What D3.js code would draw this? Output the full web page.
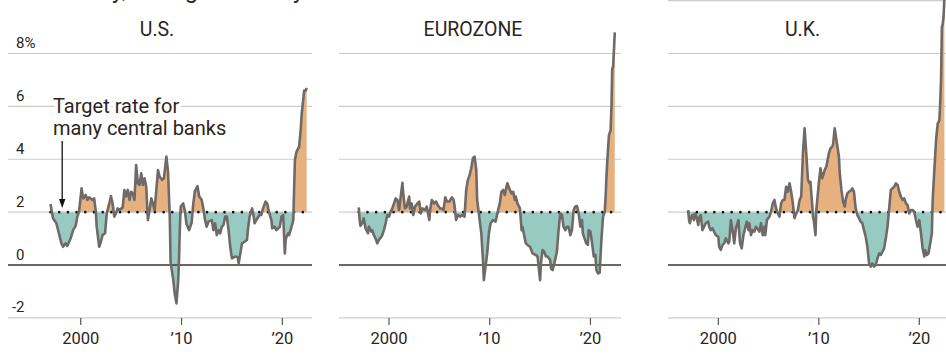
<!DOCTYPE html>
<html><head><meta charset="utf-8">
<script src="https://cdn.jsdelivr.net/npm/d3@7"></script>
<style>
html,body{margin:0;padding:0;background:#fff;}
svg{display:block;font-family:Roboto,"Noto Sans",sans-serif;}
</style></head><body>
<svg id="c" width="946" height="356"></svg>
<script>
// ---------------- DATA ----------------
const panelTitles = ["U.S.", "EUROZONE", "U.K."];
const targetRate = 2;
const yTicks = [-2, 0, 2, 4, 6, 8];
const ukYTicks = [-2, 0, 2, 4, 6, 8, 10];
const xTickYears = ["2000-01", "2010-01", "2020-01"];
const xTickLabels = ["2000", "\u201910", "\u201920"];
const subtitle = "Monthly, change from a year earlier";
const noteLines = ["Target rate for", "many central banks"];

const usDates = ["1997-01","1997-04","1997-08","1998-02","1998-04","1998-07","1998-09","1999-01","1999-04","1999-07","1999-09","1999-11",
"2000-02","2000-04","2000-07","2000-09","2000-11","2001-03","2001-05","2001-07","2001-08","2001-11","2002-01","2002-03","2002-06","2002-08","2002-11",
"2003-01","2003-03","2003-05","2003-07","2003-09","2003-11","2004-03","2004-05","2004-07","2004-09","2004-11","2005-01","2005-03","2005-05","2005-07","2005-09","2005-11",
"2006-01","2006-03","2006-05","2006-07","2006-09","2006-11","2007-01","2007-03","2007-05","2007-09","2007-11","2008-02","2008-04","2008-07","2008-09","2008-11","2008-12",
"2009-03","2009-05","2009-07","2009-09","2009-10","2009-11","2009-12","2010-03","2010-05","2010-07","2010-10","2011-01","2011-03","2011-05","2011-08","2011-10",
"2012-01","2012-03","2012-05","2012-07","2012-09","2013-01","2013-03","2013-05","2013-07","2013-09","2013-11","2014-01","2014-03","2014-05","2014-07","2014-09","2014-11",
"2015-01","2015-05","2015-08","2015-09","2015-11","2016-01","2016-04","2016-07","2016-08","2016-10","2017-01","2017-03","2017-04","2017-06","2017-10","2017-12",
"2018-02","2018-05","2018-07","2018-09","2018-12","2019-01","2019-04","2019-06","2019-08","2019-10","2019-12","2020-02","2020-04","2020-05","2020-06","2020-08","2020-09","2020-12",
"2021-02","2021-04","2021-06","2021-09","2021-11","2021-12","2022-01","2022-02","2022-03","2022-05","2022-06"];
const usValues = [2.31,1.77,1.58,0.82,0.69,0.82,0.72,1.01,1.32,1.48,1.83,2.02,
2.90,2.52,2.65,2.46,2.56,2.46,2.52,2.02,1.45,0.69,0.88,1.13,1.20,1.95,2.33,
2.61,2.33,1.83,1.95,2.14,2.08,2.18,2.84,2.59,2.84,2.46,2.77,2.71,2.46,3.78,3.09,3.03,
3.47,3.03,3.28,2.96,1.70,2.08,2.52,2.33,2.08,3.59,3.34,3.22,3.28,4.10,3.50,1.80,0.10,
-0.50,-1.10,-1.45,-0.60,0.20,1.40,2.20,2.33,2.05,1.55,1.32,1.60,2.30,2.80,2.98,2.60,
2.46,2.14,1.70,1.45,1.64,1.70,1.32,1.58,1.13,1.32,1.20,1.45,1.51,1.83,1.83,1.32,0.69,
0.25,0.32,0.29,0.06,0.44,0.82,0.88,0.95,1.32,1.83,2.14,1.83,1.58,1.70,1.89,1.89,
2.14,2.40,2.33,2.02,1.70,1.39,1.45,1.32,1.39,1.45,1.83,1.89,0.44,0.95,1.07,1.20,1.13,1.45,
1.70,3.97,4.29,4.48,5.17,5.70,6.00,6.30,6.60,6.60,6.70];

const euDates = ["1997-01","1997-02","1997-03","1997-05","1997-07","1997-09","1997-12","1998-01","1998-04","1998-05","1998-07","1998-09","1998-11",
"1999-01","1999-04","1999-05","1999-07","1999-09","1999-11","2000-01","2000-03","2000-05","2000-07","2000-09","2000-11",
"2001-01","2001-05","2001-06","2001-08","2001-10","2002-01","2002-02","2002-04","2002-06","2002-08","2002-11",
"2003-01","2003-03","2003-05","2003-08","2003-10","2004-01","2004-02","2004-04","2004-07","2004-09","2004-11",
"2005-02","2005-04","2005-06","2005-08","2005-10","2006-01","2006-02","2006-04","2006-06","2006-07","2006-09","2006-11",
"2007-02","2007-04","2007-07","2007-09","2007-11","2008-01","2008-03","2008-05","2008-07","2008-09","2008-10",
"2009-01","2009-03","2009-05","2009-06","2009-08","2009-10","2009-12","2010-02","2010-05","2010-08","2010-11",
"2011-01","2011-03","2011-05","2011-07","2011-09","2011-10","2012-01","2012-03","2012-05","2012-07","2012-08","2012-10",
"2013-01","2013-03","2013-04","2013-06","2013-08","2013-10","2014-01","2014-04","2014-08","2014-10",
"2015-01","2015-02","2015-04","2015-06","2015-08","2015-10","2016-01","2016-02","2016-04","2016-06","2016-09","2016-11",
"2017-01","2017-03","2017-05","2017-07","2017-09","2017-11","2018-01","2018-03","2018-05","2018-07","2018-09","2018-11",
"2019-01","2019-03","2019-04","2019-06","2019-08","2019-10","2019-11","2020-01","2020-03","2020-05","2020-07","2020-08","2020-10","2020-12",
"2021-02","2021-04","2021-06","2021-07","2021-08","2021-09","2021-10","2021-11","2021-12","2022-01","2022-02","2022-03","2022-04","2022-05","2022-06"];
const euValues = [2.18,1.70,1.48,1.58,1.77,1.39,1.20,1.45,1.26,1.32,1.13,1.01,0.82,
0.95,1.07,1.13,1.32,1.58,1.89,1.83,2.02,2.14,2.33,2.52,2.46,
2.08,3.11,2.71,2.14,2.21,2.59,2.14,2.33,1.89,2.21,2.33,
2.40,1.95,2.14,2.08,2.21,1.70,2.08,2.46,2.33,2.40,2.27,
2.14,2.14,2.08,2.56,2.40,2.40,2.46,2.56,2.46,2.27,1.70,1.89,
1.83,1.89,1.83,2.84,3.22,3.40,3.66,4.04,4.10,3.59,2.46,
1.70,1.20,0.19,-0.57,-0.06,0.44,1.20,1.58,1.70,1.64,2.08,
2.33,2.77,2.84,2.65,2.96,3.09,2.84,2.71,2.77,2.46,2.59,2.33,
2.14,1.32,1.45,1.13,0.82,0.76,0.69,0.44,0.38,0.32,
-0.57,0.06,0.57,0.50,0.32,0.32,0.19,-0.13,-0.19,0.06,0.50,1.32,
1.95,1.89,1.45,1.32,1.45,1.45,1.13,1.32,2.08,2.21,2.23,1.95,
1.45,1.70,1.20,1.01,0.82,0.76,1.32,1.26,0.82,0.32,0.38,-0.19,-0.32,-0.29,
0.95,1.83,2.00,2.50,3.30,3.90,4.40,4.90,5.00,5.10,6.00,7.40,7.50,8.10,8.80];

const ukDates = ["1997-01","1997-02","1997-03","1997-05","1997-06","1997-08","1997-09","1997-11","1998-01","1998-02","1998-04","1998-06","1998-08","1998-10",
"1999-01","1999-02","1999-04","1999-06","1999-08","1999-10","2000-01","2000-02","2000-04","2000-06","2000-08","2000-10",
"2001-01","2001-02","2001-04","2001-06","2001-08","2001-10","2002-01","2002-02","2002-03","2002-05","2002-07","2002-09","2002-11",
"2003-01","2003-02","2003-04","2003-06","2003-08","2003-10","2004-01","2004-02","2004-04","2004-06","2004-08","2004-09","2004-11",
"2005-02","2005-04","2005-06","2005-08","2005-10","2005-12","2006-02","2006-04","2006-06","2006-08","2006-10","2006-12",
"2007-02","2007-04","2007-06","2007-08","2007-10","2007-12","2008-02","2008-04","2008-06","2008-08","2008-10","2008-12",
"2009-02","2009-03","2009-05","2009-06","2009-07","2009-09","2009-10","2010-01","2010-03","2010-05","2010-07","2010-08","2010-10",
"2011-01","2011-03","2011-05","2011-06","2011-08","2011-10","2012-01","2012-02","2012-04","2012-06","2012-08","2012-09","2012-11",
"2013-01","2013-04","2013-05","2013-07","2013-09","2013-11","2014-01","2014-03","2014-05","2014-07","2014-09","2014-11",
"2015-01","2015-03","2015-05","2015-07","2015-09","2015-11","2016-01","2016-03","2016-05","2016-07","2016-09","2016-11",
"2017-01","2017-03","2017-05","2017-07","2017-09","2017-11","2018-01","2018-03","2018-05","2018-07","2018-09","2018-11",
"2019-01","2019-03","2019-05","2019-07","2019-09","2019-11","2020-01","2020-03","2020-05","2020-07","2020-08","2020-10","2020-12",
"2021-02","2021-04","2021-05","2021-07","2021-09","2021-11","2021-12","2022-01","2022-02","2022-03","2022-04","2022-05","2022-06","2022-07"];
const ukValues = [2.08,1.70,1.58,1.83,1.89,1.70,1.95,1.83,1.51,1.77,1.89,1.32,1.45,1.58,
1.64,1.45,1.32,1.39,1.26,1.13,1.07,0.69,0.57,0.76,0.82,1.01,
0.82,0.88,1.70,1.32,0.82,1.39,1.70,1.20,0.82,0.63,1.13,1.39,1.64,
1.32,1.58,1.13,1.32,1.26,1.45,1.32,1.26,1.58,1.13,1.45,1.13,1.70,
1.83,2.02,2.33,2.46,2.14,1.95,1.83,2.33,2.46,2.46,2.96,2.77,
3.09,2.77,2.33,1.77,1.95,2.08,2.46,2.59,4.22,5.17,4.22,3.22,
3.09,3.15,2.33,1.83,1.70,1.13,2.08,3.09,3.66,3.28,3.47,3.59,3.72,
4.22,4.41,4.48,4.54,5.17,4.73,4.10,3.47,2.84,2.40,2.21,2.46,2.71,
2.77,2.84,2.90,2.77,2.14,1.89,1.77,1.64,1.58,1.32,1.07,0.69,
0.06,-0.06,0.06,-0.06,0.00,0.25,0.44,0.38,0.50,0.63,1.01,1.45,
2.14,2.84,2.90,2.96,3.09,3.03,2.77,2.59,2.46,2.52,2.33,2.27,
1.95,2.08,2.08,2.02,1.70,1.45,1.70,1.20,0.63,0.32,0.57,0.38,0.44,
0.82,1.20,2.46,3.59,4.73,5.36,5.40,5.50,6.20,7.00,9.00,9.10,9.40,10.10];

// ---------------- LAYOUT ----------------
const parse = d3.timeParse("%Y-%m");
const svg = d3.select("#c");
const W = 946, H = 356;
const col = {teal:"#97cbc2", orange:"#e6b17f", line:"#6f6a67", grid:"#cccccc", zero:"#3d3431", text:"#2b2523"};

const y = d3.scaleLinear().domain([-2, 8]).range([317.9, 53.5]);

const panels = [
  {title: panelTitles[0], dates: usDates, values: usValues, r0: 50.5, r1: 307.5, g0: 8, g1: 312, tx: 157, ticks: yTicks},
  {title: panelTitles[1], dates: euDates, values: euValues, r0: 358.8, r1: 615.6, g0: 339, g1: 621, tx: 473, ticks: yTicks},
  {title: panelTitles[2], dates: ukDates, values: ukValues, r0: 688.2, r1: 944.4, g0: 668, g1: 952, tx: 802.5, ticks: ukYTicks}
];

const defs = svg.append("defs");
defs.append("clipPath").attr("id","above").append("rect")
  .attr("x",0).attr("y",-100).attr("width",W).attr("height", y(targetRate)+100);
defs.append("clipPath").attr("id","below").append("rect")
  .attr("x",0).attr("y",y(targetRate)).attr("width",W).attr("height",H);

// subtitle, cut off at the very top as in the reference
const sub = svg.append("text").attr("y", -2).attr("font-size", 24).attr("fill", col.text).text(subtitle);
const pre = sub.node().getSubStringLength(0, subtitle.indexOf("y"));
sub.attr("x", 112 - pre);

panels.forEach((p, i) => {
  const g = svg.append("g");
  const data = p.dates.map((d, k) => ({date: parse(d), v: p.values[k]}));
  const x = d3.scaleTime().domain([parse("1997-01"), parse("2022-07")]).range([p.r0, p.r1]);

  g.selectAll(".grid").data(p.ticks.filter(t => t !== 0)).join("line")
    .attr("x1", p.g0).attr("x2", p.g1)
    .attr("y1", d => y(d)).attr("y2", d => y(d))
    .attr("stroke", col.grid).attr("stroke-width", 1.2);

  const area = d3.area().x(d => x(d.date)).y0(y(targetRate)).y1(d => y(d.v));
  g.append("path").datum(data).attr("d", area).attr("fill", col.orange).attr("clip-path","url(#above)");
  g.append("path").datum(data).attr("d", area).attr("fill", col.teal).attr("clip-path","url(#below)");

  g.append("line").attr("x1", p.g0).attr("x2", p.g1).attr("y1", y(0)).attr("y2", y(0))
    .attr("stroke", col.zero).attr("stroke-width", 1.6);

  const ext = d3.extent(data, d => d.date);
  g.append("line").attr("x1", x(ext[0])).attr("x2", x(ext[1]) - 3)
    .attr("y1", y(targetRate)).attr("y2", y(targetRate))
    .attr("stroke", "#111").attr("stroke-width", 2.6)
    .attr("stroke-linecap","round").attr("stroke-dasharray","0 8.7");

  g.append("path").datum(data)
    .attr("d", d3.line().x(d => x(d.date)).y(d => y(d.v)))
    .attr("fill","none").attr("stroke", col.line).attr("stroke-width", 2.6)
    .attr("stroke-linejoin","round");

  const xt = xTickYears.map(parse);
  g.selectAll(".xt").data(xt).join("line")
    .attr("x1", d => x(d)).attr("x2", d => x(d))
    .attr("y1", y(-2)).attr("y2", y(-2) + 7)
    .attr("stroke", "#555").attr("stroke-width", 1.2);
  g.selectAll(".xl").data(xt).join("text")
    .attr("x", d => x(d)).attr("y", 344)
    .attr("text-anchor","middle").attr("font-size", 16.5).attr("fill", col.text)
    .text((d, k) => xTickLabels[k]);

  g.append("text").attr("x", p.tx).attr("y", 36).attr("text-anchor","middle")
    .attr("font-size", 19.5).attr("fill", col.text).text(p.title);

  if (i === 0) {
    g.selectAll(".yl").data(yTicks).join("text")
      .attr("x", 24.5).attr("y", d => y(d) - 5.5)
      .attr("text-anchor","end").attr("font-size", 15).attr("fill", col.text)
      .text(d => d);
    g.append("text").attr("x", 24.5).attr("y", y(8) - 5.5).attr("font-size", 15)
      .attr("fill", col.text).text("%");

    noteLines.forEach((t, k) => {
      g.append("text").attr("x", 53).attr("y", 113.3 + k * 21.7)
        .attr("font-size", 20).attr("fill", col.text)
        .attr("stroke", "#fff").attr("stroke-width", 7).attr("paint-order","stroke")
        .attr("stroke-linejoin","round").text(t);
    });
    const ax = x(parse("1998-03"));
    g.append("line").attr("x1", ax).attr("x2", ax).attr("y1", 141).attr("y2", 201)
      .attr("stroke", "#111").attr("stroke-width", 1.3);
    g.append("path").attr("d", `M${ax-3.2},199 L${ax+3.2},199 L${ax},208 Z`).attr("fill","#111");
  }
});
</script>
</body></html>
